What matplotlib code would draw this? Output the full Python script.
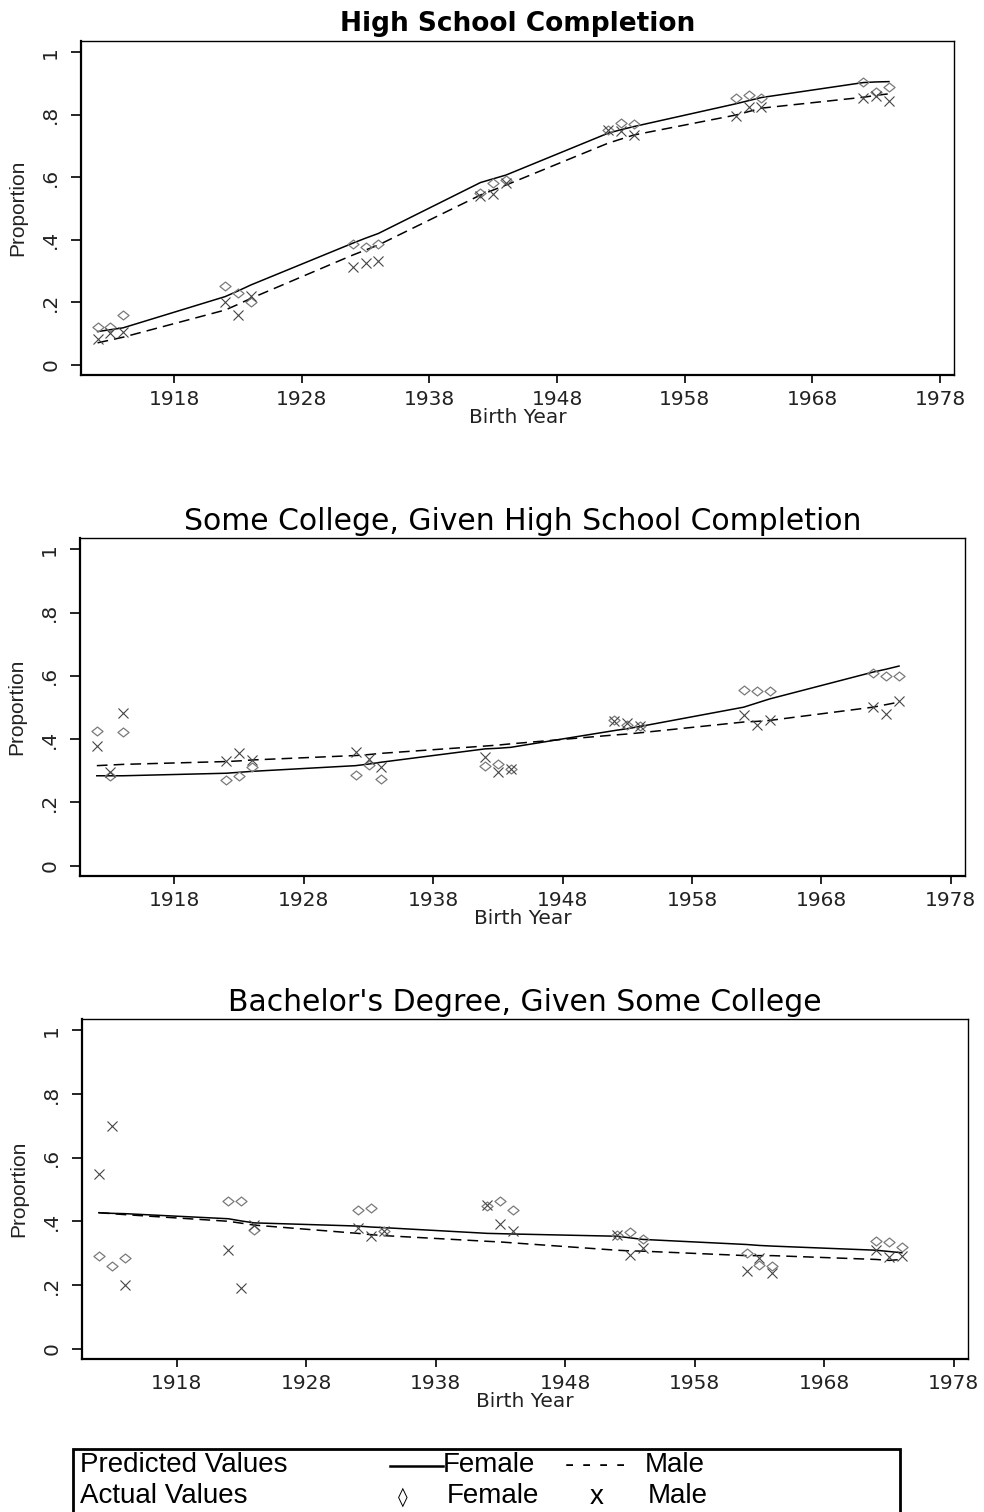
import matplotlib
matplotlib.use("Agg")
import matplotlib.pyplot as plt
from matplotlib.path import Path
from matplotlib.lines import Line2D
from matplotlib.patches import Rectangle

# ---------------- data ----------------
years = [1912, 1913, 1914, 1922, 1923, 1924, 1932, 1933, 1934, 1942, 1943, 1944,
         1952, 1953, 1954, 1962, 1963, 1964, 1972, 1973, 1974]

titles = ["High School Completion",
          "Some College, Given High School Completion",
          "Bachelor's Degree, Given Some College"]

xticks = [1918, 1928, 1938, 1948, 1958, 1968, 1978]
yticks = [0, 0.2, 0.4, 0.6, 0.8, 1.0]
ytick_labels = ["0", ".2", ".4", ".6", ".8", "1"]

hs_female_actual = [0.122, 0.120, 0.159, 0.252, 0.228, 0.202, 0.386, 0.378, 0.386,
                    0.550, 0.580, 0.590, 0.752, 0.775, 0.769, 0.852, 0.863, 0.853,
                    0.906, 0.874, 0.888]
hs_male_actual = [0.081, 0.102, 0.106, 0.202, 0.158, 0.220, 0.314, 0.325, 0.333,
                  0.541, 0.545, 0.580, 0.751, 0.748, 0.735, 0.797, 0.824, 0.824,
                  0.853, 0.860, 0.845]
hs_female_pred = [0.106, 0.112, 0.118, 0.218, 0.236, 0.255, 0.389, 0.405, 0.420,
                  0.583, 0.595, 0.607, 0.741, 0.752, 0.762, 0.835, 0.845, 0.855,
                  0.903, 0.905, 0.906]
hs_male_pred = [0.070, 0.079, 0.088, 0.175, 0.193, 0.212, 0.351, 0.367, 0.383,
                0.543, 0.559, 0.575, 0.709, 0.722, 0.735, 0.799, 0.810, 0.821,
                0.856, 0.862, 0.867]

sc_female_actual = [0.427, 0.282, 0.422, 0.271, 0.282, 0.311, 0.287, 0.319, 0.274,
                    0.314, 0.322, 0.306, 0.460, 0.446, 0.440, 0.556, 0.552, 0.552,
                    0.609, 0.600, 0.600]
sc_male_actual = [0.377, 0.295, 0.483, 0.330, 0.355, 0.334, 0.359, 0.338, 0.313,
                  0.343, 0.297, 0.306, 0.457, 0.452, 0.442, 0.475, 0.445, 0.459,
                  0.501, 0.480, 0.522]
sc_female_pred = [0.284, 0.284, 0.284, 0.292, 0.295, 0.298, 0.316, 0.321, 0.327,
                  0.369, 0.371, 0.374, 0.427, 0.433, 0.440, 0.501, 0.514, 0.527,
                  0.612, 0.621, 0.631]
sc_male_pred = [0.316, 0.318, 0.320, 0.329, 0.331, 0.334, 0.348, 0.351, 0.355,
                0.378, 0.381, 0.385, 0.413, 0.416, 0.420, 0.454, 0.456, 0.459,
                0.501, 0.509, 0.517]

ba_female_actual = [0.290, 0.259, 0.283, 0.465, 0.465, 0.372, 0.434, 0.441, 0.369,
                    0.447, 0.463, 0.434, 0.356, 0.366, 0.345, 0.301, 0.264, 0.259,
                    0.337, 0.335, 0.320]
ba_male_actual = [0.550, 0.699, 0.201, 0.309, 0.191, 0.387, 0.379, 0.355, 0.369,
                  0.451, 0.390, 0.371, 0.356, 0.293, 0.317, 0.243, 0.283, 0.238,
                  0.309, 0.288, 0.290]
ba_female_pred = [0.427, 0.425, 0.424, 0.408, 0.401, 0.395, 0.385, 0.382, 0.380,
                  0.362, 0.361, 0.360, 0.353, 0.348, 0.343, 0.327, 0.324, 0.322,
                  0.309, 0.305, 0.301]
ba_male_pred = [0.427, 0.424, 0.421, 0.400, 0.394, 0.388, 0.362, 0.358, 0.355,
                0.337, 0.335, 0.332, 0.309, 0.307, 0.306, 0.292, 0.292, 0.292,
                0.280, 0.277, 0.280]

panels = [
    (hs_female_actual, hs_male_actual, hs_female_pred, hs_male_pred),
    (sc_female_actual, sc_male_actual, sc_female_pred, sc_male_pred),
    (ba_female_actual, ba_male_actual, ba_female_pred, ba_male_pred),
]

# ---------------- layout ----------------
W, H = 984, 1512
fig = plt.figure(figsize=(W / 100, H / 100), dpi=100)
fig.patch.set_facecolor("white")

# axes boxes in pixels: left, top, right, bottom
boxes = [(81, 41, 954, 375), (80, 538, 965, 876), (82, 1019, 968, 1359)]
title_weights = ["bold", "normal", "normal"]
title_sizes = [19, 21.5, 21.5]
title_pads = [7, 6, 6]

narrow = ["Liberation Sans Narrow", "Liberation Sans", "DejaVu Sans"]

diamond = Path([(-1, 0), (0, 0.8), (1, 0), (0, -0.8), (-1, 0)],
               [Path.MOVETO, Path.LINETO, Path.LINETO, Path.LINETO, Path.CLOSEPOLY])

for (l, t, r, b), title, tw, ts, tp, (fa, ma, fp, mp) in zip(
        boxes, titles, title_weights, title_sizes, title_pads, panels):
    ax = fig.add_axes([l / W, 1 - b / H, (r - l) / W, (b - t) / H])
    ax.set_xlim(1910.7, 1979.1)
    ax.set_ylim(-0.033, 1.036)

    ax.plot(years, fp, color="black", lw=1.1, solid_joinstyle="round")
    ax.plot(years, mp, color="black", lw=1.1, dashes=(7, 4))
    ax.plot(years, fa, linestyle="none", marker=diamond, ms=8, mfc="none",
            mec="#7a7a7a", mew=0.9)
    ax.plot(years, ma, linestyle="none", marker="x", ms=7, mec="#444444", mew=0.8)

    for side in ["top", "right"]:
        ax.spines[side].set_linewidth(1.0)
    for side in ["left", "bottom"]:
        ax.spines[side].set_linewidth(1.6)

    ax.set_xticks(xticks)
    ax.set_xticklabels([str(x) for x in xticks], fontsize=14.5, family="DejaVu Sans",
                       color="#222222")
    ax.set_yticks(yticks)
    ax.set_yticklabels(ytick_labels, fontsize=14.5, family="DejaVu Sans",
                       rotation=90, va="center", color="#222222")
    ax.tick_params(axis="y", length=7, width=1.2, pad=8)
    ax.tick_params(axis="x", length=6, width=1.2, pad=5)

    ax.set_xlabel("Birth Year", fontsize=14.5, family="DejaVu Sans", labelpad=-1,
                  color="#222222")
    ax.set_ylabel("Proportion", fontsize=15, family=narrow, labelpad=10,
                  color="#222222")
    ax.set_title(title, fontsize=ts, fontweight=tw, family="DejaVu Sans", pad=tp)

# ---------------- legend box ----------------
def fx(px):
    return px / W


def fy(py):
    return 1 - py / H


fig.patches.append(Rectangle((fx(73), fy(1530)), fx(900) - fx(73), fy(1449) - fy(1530),
                             transform=fig.transFigure, fill=False, lw=2.0,
                             edgecolor="black"))
lfs = 20
fig.text(fx(80), fy(1465), "Predicted Values", fontsize=lfs, family=narrow, va="center")
fig.text(fx(80), fy(1496), "Actual Values", fontsize=lfs, family=narrow, va="center")
fig.lines.append(Line2D([fx(390), fx(443)], [fy(1466), fy(1466)], color="black", lw=1.8,
                        transform=fig.transFigure))
fig.text(fx(443), fy(1465), "Female", fontsize=lfs, family=narrow, va="center")
fig.text(fx(565), fy(1465), "- - - -", fontsize=lfs, family=narrow, va="center")
fig.text(fx(645), fy(1465), "Male", fontsize=lfs, family=narrow, va="center")
fig.text(fx(398), fy(1497), "\u25ca", fontsize=14, family=["DejaVu Sans"], va="center")
fig.text(fx(447), fy(1496), "Female", fontsize=lfs, family=narrow, va="center")
fig.text(fx(590), fy(1497), "x", fontsize=lfs, family=narrow, va="center")
fig.text(fx(648), fy(1496), "Male", fontsize=lfs, family=narrow, va="center")

fig.savefig("out.png", dpi=100, facecolor="white")
